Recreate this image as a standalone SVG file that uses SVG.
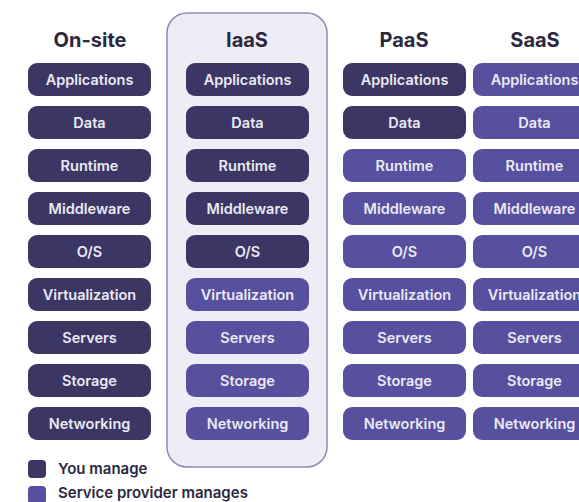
<svg xmlns="http://www.w3.org/2000/svg" width="579" height="502" viewBox="0 0 579 502">
<style>
.d{fill:#3b3663}
.l{fill:#57509f}
.t{font-family:Inter,"Liberation Sans",sans-serif;font-weight:600;font-size:14.5px;fill:#ebe9f4;text-anchor:middle;dominant-baseline:central}
.h{font-family:Inter,"Liberation Sans",sans-serif;font-weight:700;font-size:20px;fill:#2b2840;text-anchor:middle}
.g{font-family:Inter,"Liberation Sans",sans-serif;font-weight:600;font-size:15px;fill:#2b2840}
</style>
<rect width="579" height="502" fill="#ffffff"/>
<g id="iaas-container"><rect x="167" y="13" width="160" height="454" rx="20" fill="#eeedf6" stroke="#8e8ab8" stroke-width="1.5"/></g>
<g id="headers">
<text class="h" x="90" y="47">On-site</text>
<text class="h" x="247" y="47">IaaS</text>
<text class="h" x="404" y="47">PaaS</text>
<text class="h" x="535" y="47">SaaS</text>
</g>
<g id="onsite">
<rect class="d" x="28" y="63" width="123" height="33" rx="9"/><text class="t" x="89.5" y="79.5">Applications</text>
<rect class="d" x="28" y="106" width="123" height="33" rx="9"/><text class="t" x="89.5" y="122.5">Data</text>
<rect class="d" x="28" y="149" width="123" height="33" rx="9"/><text class="t" x="89.5" y="165.5">Runtime</text>
<rect class="d" x="28" y="192" width="123" height="33" rx="9"/><text class="t" x="89.5" y="208.5">Middleware</text>
<rect class="d" x="28" y="235" width="123" height="33" rx="9"/><text class="t" x="89.5" y="251.5">O/S</text>
<rect class="d" x="28" y="278" width="123" height="33" rx="9"/><text class="t" x="89.5" y="294.5">Virtualization</text>
<rect class="d" x="28" y="321" width="123" height="33" rx="9"/><text class="t" x="89.5" y="337.5">Servers</text>
<rect class="d" x="28" y="364" width="123" height="33" rx="9"/><text class="t" x="89.5" y="380.5">Storage</text>
<rect class="d" x="28" y="407" width="123" height="33" rx="9"/><text class="t" x="89.5" y="423.5">Networking</text>
</g>
<g id="iaas">
<rect class="d" x="186" y="63" width="123" height="33" rx="9"/><text class="t" x="247.5" y="79.5">Applications</text>
<rect class="d" x="186" y="106" width="123" height="33" rx="9"/><text class="t" x="247.5" y="122.5">Data</text>
<rect class="d" x="186" y="149" width="123" height="33" rx="9"/><text class="t" x="247.5" y="165.5">Runtime</text>
<rect class="d" x="186" y="192" width="123" height="33" rx="9"/><text class="t" x="247.5" y="208.5">Middleware</text>
<rect class="d" x="186" y="235" width="123" height="33" rx="9"/><text class="t" x="247.5" y="251.5">O/S</text>
<rect class="l" x="186" y="278" width="123" height="33" rx="9"/><text class="t" x="247.5" y="294.5">Virtualization</text>
<rect class="l" x="186" y="321" width="123" height="33" rx="9"/><text class="t" x="247.5" y="337.5">Servers</text>
<rect class="l" x="186" y="364" width="123" height="33" rx="9"/><text class="t" x="247.5" y="380.5">Storage</text>
<rect class="l" x="186" y="407" width="123" height="33" rx="9"/><text class="t" x="247.5" y="423.5">Networking</text>
</g>
<g id="paas">
<rect class="d" x="343" y="63" width="123" height="33" rx="9"/><text class="t" x="404.5" y="79.5">Applications</text>
<rect class="d" x="343" y="106" width="123" height="33" rx="9"/><text class="t" x="404.5" y="122.5">Data</text>
<rect class="l" x="343" y="149" width="123" height="33" rx="9"/><text class="t" x="404.5" y="165.5">Runtime</text>
<rect class="l" x="343" y="192" width="123" height="33" rx="9"/><text class="t" x="404.5" y="208.5">Middleware</text>
<rect class="l" x="343" y="235" width="123" height="33" rx="9"/><text class="t" x="404.5" y="251.5">O/S</text>
<rect class="l" x="343" y="278" width="123" height="33" rx="9"/><text class="t" x="404.5" y="294.5">Virtualization</text>
<rect class="l" x="343" y="321" width="123" height="33" rx="9"/><text class="t" x="404.5" y="337.5">Servers</text>
<rect class="l" x="343" y="364" width="123" height="33" rx="9"/><text class="t" x="404.5" y="380.5">Storage</text>
<rect class="l" x="343" y="407" width="123" height="33" rx="9"/><text class="t" x="404.5" y="423.5">Networking</text>
</g>
<g id="saas">
<rect class="l" x="473" y="63" width="123" height="33" rx="9"/><text class="t" x="534.5" y="79.5">Applications</text>
<rect class="l" x="473" y="106" width="123" height="33" rx="9"/><text class="t" x="534.5" y="122.5">Data</text>
<rect class="l" x="473" y="149" width="123" height="33" rx="9"/><text class="t" x="534.5" y="165.5">Runtime</text>
<rect class="l" x="473" y="192" width="123" height="33" rx="9"/><text class="t" x="534.5" y="208.5">Middleware</text>
<rect class="l" x="473" y="235" width="123" height="33" rx="9"/><text class="t" x="534.5" y="251.5">O/S</text>
<rect class="l" x="473" y="278" width="123" height="33" rx="9"/><text class="t" x="534.5" y="294.5">Virtualization</text>
<rect class="l" x="473" y="321" width="123" height="33" rx="9"/><text class="t" x="534.5" y="337.5">Servers</text>
<rect class="l" x="473" y="364" width="123" height="33" rx="9"/><text class="t" x="534.5" y="380.5">Storage</text>
<rect class="l" x="473" y="407" width="123" height="33" rx="9"/><text class="t" x="534.5" y="423.5">Networking</text>
</g>
<g id="legend">
<rect class="d" x="28" y="460" width="18" height="18" rx="4"/><text class="g" x="58" y="474">You manage</text>
<rect class="l" x="28" y="486" width="18" height="18" rx="4"/><text class="g" x="58" y="498">Service provider manages</text>
</g>
</svg>
